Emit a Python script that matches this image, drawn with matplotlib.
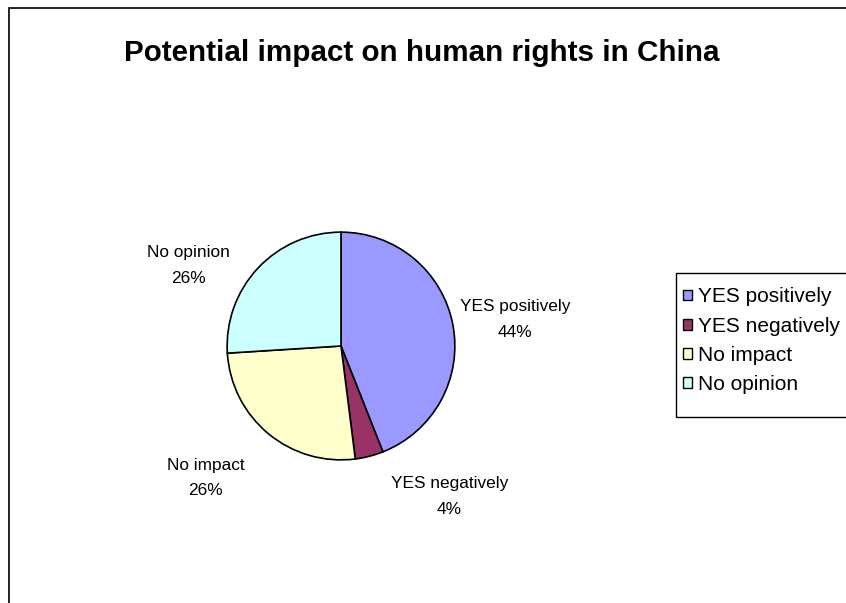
import matplotlib.pyplot as plt
from matplotlib.patches import Rectangle, Patch

# data
labels = ['YES positively', 'YES negatively', 'No impact', 'No opinion']
shares = [44, 4, 26, 26]
colors = ['#9999FF', '#993366', '#FFFFCC', '#CCFFFF']

# label positions relative to pie centre, in pie radii
label_pos = [(1.53, 0.23), (0.95, -1.325), (-1.19, -1.16), (-1.34, 0.71)]

plt.rcParams['font.family'] = ['Liberation Sans', 'DejaVu Sans']

W, H = 846, 603
fig = plt.figure(figsize=(W / 100, H / 100), dpi=100)

# outer chart border (runs off the right and bottom edge)
fig.patches.append(Rectangle((9 / W, -0.05), 1.1, 1 - 8 / H + 0.05,
                             transform=fig.transFigure, fill=False,
                             edgecolor='black', linewidth=1.2))

cx, cy, r = 341, 346, 115
ax = fig.add_axes([(cx - r) / W, 1 - (cy + r) / H, 2 * r / W, 2 * r / H])
wedges, _ = ax.pie(shares, colors=colors, startangle=90, counterclock=False,
                   radius=1, wedgeprops=dict(edgecolor='black', linewidth=1.2))
ax.set_xlim(-1.01, 1.01)
ax.set_ylim(-1.01, 1.01)
ax.set_aspect('equal')
ax.axis('off')

for lab, val, (lx, ly) in zip(labels, shares, label_pos):
    ax.text(lx, ly, f'{lab}\n{val}%', ha='center', va='center',
            fontsize=12.4, linespacing=1.9, clip_on=False)

fig.text(422 / W, 1 - 53 / H, 'Potential impact on human rights in China',
         ha='center', va='center', fontsize=21.3, fontweight='bold')

# legend frame (Excel style, extra room at the bottom, cut by right edge)
fig.patches.append(Rectangle((676 / W, 1 - 417 / H), 0.3, 144 / H,
                             transform=fig.transFigure, fill=False,
                             edgecolor='black', linewidth=1.0))

handles = [Patch(facecolor=c, edgecolor='black', linewidth=1.0) for c in colors]
leg = fig.legend(handles, labels, loc='upper left',
                 bbox_to_anchor=(674 / W, 1 - 278 / H),
                 fontsize=15, frameon=False,
                 handlelength=0.42, handleheight=0.42, handletextpad=0.27,
                 labelspacing=0.49, borderpad=0.45, borderaxespad=0)

fig.savefig('out.png', dpi=100)
